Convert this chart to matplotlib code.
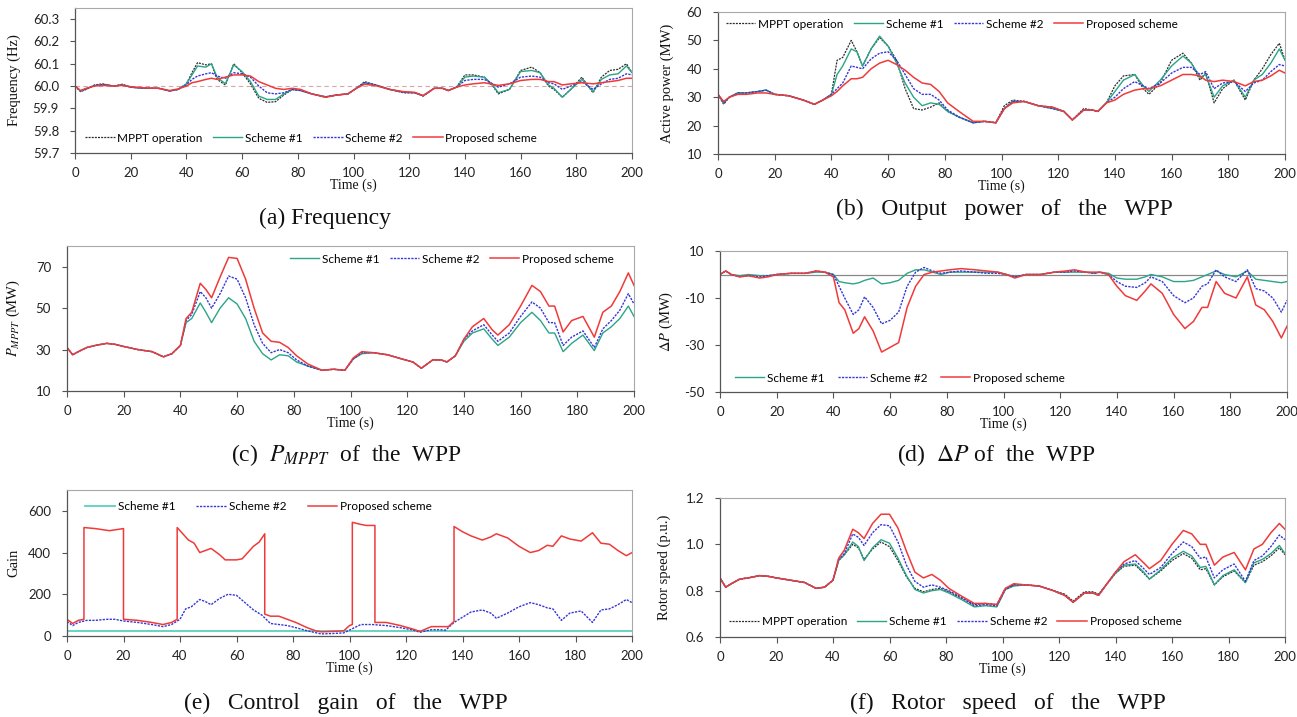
import matplotlib
matplotlib.use('Agg')
import matplotlib.pyplot as plt

plt.rcParams['mathtext.fontset'] = 'stix'

# ---------------- data ----------------
T = [0, 2, 4, 7, 10, 14, 17, 20, 25, 30, 34, 37, 40,
     42, 44, 47, 49, 51, 54, 57, 60, 63, 66, 69, 72, 75, 78, 81,
     85, 90, 94, 98, 101, 104, 108, 113, 118, 122, 125, 129, 132, 134, 137,
     140, 143, 147, 150, 152, 156, 160, 164, 167, 170, 172, 175, 178, 182, 186, 189, 192, 195, 198, 200]

xticks = list(range(0, 201, 20))
series_names = ['MPPT operation', 'Scheme #1', 'Scheme #2', 'Proposed scheme']

# (a) Frequency (Hz)
freq_mppt = [60.0, 59.975, 59.985, 60.005, 60.01, 60.0, 60.008, 59.995, 59.99, 59.99, 59.978, 59.985, 60.01,
             60.06, 60.105, 60.095, 60.10, 60.03, 60.005, 60.10, 60.06, 60.01, 59.945, 59.927, 59.93, 59.96, 59.985, 59.98,
             59.965, 59.95, 59.96, 59.965, 59.99, 60.02, 60.005, 59.985, 59.97, 59.97, 59.955, 59.99, 59.99, 59.98, 59.995,
             60.05, 60.05, 60.04, 60.0, 59.965, 59.985, 60.07, 60.085, 60.06, 60.0, 59.985, 59.95, 59.985, 60.04, 59.97, 60.04, 60.07, 60.075, 60.10, 60.06]
freq_s1 = [60.0, 59.978, 59.987, 60.003, 60.007, 60.0, 60.006, 59.995, 59.99, 59.99, 59.978, 59.985, 60.01,
           60.05, 60.09, 60.085, 60.10, 60.04, 60.01, 60.095, 60.065, 60.02, 59.955, 59.94, 59.94, 59.965, 59.985, 59.98,
           59.965, 59.952, 59.96, 59.965, 59.99, 60.015, 60.005, 59.985, 59.972, 59.97, 59.957, 59.99, 59.99, 59.98, 59.995,
           60.04, 60.045, 60.04, 60.005, 59.97, 59.985, 60.065, 60.07, 60.06, 60.005, 59.99, 59.95, 59.985, 60.03, 59.975, 60.03, 60.05, 60.055, 60.09, 60.06]
freq_s2 = [60.0, 59.978, 59.987, 60.003, 60.007, 60.0, 60.006, 59.995, 59.99, 59.99, 59.978, 59.985, 60.005,
           60.03, 60.045, 60.055, 60.06, 60.045, 60.035, 60.06, 60.055, 60.04, 60.0, 59.97, 59.965, 59.97, 59.985, 59.98,
           59.965, 59.952, 59.96, 59.965, 59.99, 60.015, 60.005, 59.985, 59.972, 59.97, 59.957, 59.99, 59.99, 59.98, 59.995,
           60.025, 60.03, 60.03, 60.01, 59.995, 60.01, 60.04, 60.045, 60.04, 60.015, 60.01, 59.985, 60.0, 60.02, 59.985, 60.01, 60.03, 60.035, 60.055, 60.05]
freq_prop = [60.0, 59.98, 59.99, 60.0, 60.003, 60.0, 60.003, 59.997, 59.992, 59.99, 59.98, 59.987, 60.0,
             60.015, 60.02, 60.03, 60.035, 60.03, 60.04, 60.05, 60.05, 60.045, 60.02, 60.005, 59.99, 59.985, 59.99, 59.985,
             59.965, 59.95, 59.96, 59.965, 59.99, 60.008, 60.002, 59.985, 59.975, 59.972, 59.957, 59.99, 59.99, 59.98, 59.995,
             60.005, 60.01, 60.015, 60.008, 60.003, 60.01, 60.025, 60.03, 60.03, 60.02, 60.02, 60.005, 60.01, 60.015, 60.01, 60.015, 60.02, 60.025, 60.035, 60.035]
freq_nominal = 60.0

# (b) Active power (MW)
pow_mppt = [31, 27.5, 30, 31.5, 31.5, 32, 32.5, 31, 30.5, 29, 27.5, 29, 31,
            43, 44, 50, 46, 41, 47, 51, 48, 43, 33, 26, 25.5, 26.5, 28, 25,
            23, 21, 21.5, 21, 27, 29, 28.5, 27, 26.5, 25, 22, 26, 25.5, 25, 28,
            34, 37.5, 38, 33, 31, 35, 43, 45.5, 42, 36, 38.5, 28, 33, 36, 29, 36, 40, 45, 49, 43]
pow_s1 = [31, 28, 30, 31.5, 31.5, 32, 32.5, 31, 30.5, 29, 27.5, 29, 31,
          38, 41, 47, 46, 41, 47, 51.5, 48, 42, 35, 30, 27, 28, 27.5, 25,
          23, 21, 21.5, 21, 26, 28.5, 28.5, 27, 26, 25, 22, 25.5, 25.5, 25, 28,
          32, 36, 38, 34, 32, 36, 41, 44.5, 42, 37, 38, 30, 34, 36, 30, 36, 38, 42, 47, 43]
pow_s2 = [31, 28, 30, 31.5, 31.5, 32, 32.5, 31, 30.5, 29, 27.5, 29, 31,
          33, 35, 41, 40.5, 40, 43.5, 45.5, 46, 43, 38, 33, 31, 31, 29, 25.5,
          23, 21, 21.5, 21, 26, 28.5, 28.5, 27, 26, 25, 22, 25.5, 25.5, 25, 28,
          30, 33, 35.5, 34, 33, 35, 38.5, 40.5, 40.5, 38, 39, 33, 35, 35.5, 32, 35, 36, 39, 41.5, 41]
pow_prop = [31, 28.5, 30, 31, 31, 31.5, 31.5, 31, 30.5, 29, 27.5, 29, 30.5,
            32, 34, 36.5, 36.5, 37, 40, 42, 43, 41.5, 39.5, 37, 35, 34.5, 32, 28,
            25, 21.5, 21.5, 21, 26, 28, 28.5, 27, 26.5, 25, 22, 25.5, 25.5, 25, 28,
            29, 31, 32.5, 33, 33, 34, 36, 38, 38, 37.5, 36, 35.5, 36, 35.5, 34, 35.5, 36, 37.5, 39.5, 38.5]

# (c) P_MPPT (MW)
pm_s1 = [31, 27.5, 29, 31, 32, 33, 32.5, 31.5, 30, 29, 26.5, 28, 32,
         43, 45, 52.5, 48, 43, 50, 55, 52, 45, 34, 28, 25, 27.5, 27, 24,
         22, 20, 20.5, 20, 25.5, 28, 28.5, 27.5, 25.5, 24, 21, 25, 25, 24, 27,
         34, 38, 40, 35, 32, 36, 43, 48, 44, 38, 38, 29, 33, 37, 29.5, 38, 41, 45, 51, 46]
pm_s2 = [31, 27.5, 29, 31, 32, 33, 32.5, 31.5, 30, 29, 26.5, 28, 32,
         44, 47, 58, 55, 50, 57, 65.5, 64, 55, 42, 33, 28.5, 30, 28.5, 25,
         22, 20, 20.5, 20, 25.5, 28.5, 28.5, 27.5, 25.5, 24, 21, 25, 25, 24, 27,
         35, 39, 42, 37, 34, 38, 46, 53, 50, 43, 43, 32, 36, 39, 31, 40, 44, 49, 57, 52]
pm_prop = [31, 27.5, 29, 31, 32, 33, 32.5, 31.5, 30, 29, 26.5, 28, 32,
           45, 48, 62, 59, 55, 65, 74.5, 74, 64, 50, 38, 34, 33.5, 31, 27,
           23, 20, 20.5, 20, 26, 29, 28.5, 27.5, 25.5, 24, 21, 25, 25, 24, 27,
           35, 41, 45, 39.5, 37, 42, 51, 61, 58, 51, 51, 38.5, 44, 46, 36, 48, 51, 58, 67, 61]

# (d) Delta P (MW)
dp_s1 = [0, 1.5, 0, -0.5, 0, -0.5, -0.5, 0, 0.5, 0.5, 1, 1, 0,
         -3, -3.5, -4, -3.5, -2.5, -1.5, -4, -3.5, -2.5, 0.5, 2, 2, 1, 0, 1,
         1, 1, 1, 1, 0, -1, 0, 0, 1, 1, 1, 1, 0.5, 1, 0.5,
         -1.5, -2, -2, -1, 0, -1, -3, -3, -2.5, -1, 0, 1.5, 0, -1, 1.5, -2, -2.5, -3, -3.5, -3]
dp_s2 = [0, 1.5, 0, -1, -0.5, -1, -0.5, 0, 0.5, 0.5, 1.5, 1, 0,
         -5, -10, -17, -15, -9.5, -14, -21, -19.5, -16, -5, 1, 3, 1.5, 0.5, 1,
         1.5, 1, 0.5, 0.5, 0, -1, 0, 0, 1, 1, 1.5, 1, 0.5, 1, 0,
         -3, -5, -5.5, -3.5, -1, -3, -9, -12, -10, -5, -4, 2, -1, -3, 2, -6, -7, -10, -16, -11]
dp_prop = [0, 1.5, 0, -1, -0.5, -1.5, -1, 0, 0.5, 0.5, 1.5, 1, -1,
           -12, -15, -25, -23, -18, -24, -33, -31, -29, -14, -5, 0, 1, 1.5, 2,
           2.5, 2, 1.5, 1, 0, -1.5, 0, 0, 1, 1.5, 2, 1, 1, 1, 0,
           -5, -9, -11, -7, -4, -8, -17, -23, -20, -14, -14, -3, -8, -10, -1, -13, -15, -20, -27, -22]
dp_zero = 0

# (e) Control gain
gain_s1_t = [0, 200]
gain_s1 = [25, 25]
gain_s2 = [70, 50, 65, 75, 75, 80, 80, 72, 65, 55, 45, 55, 80,
           130, 140, 175, 165, 150, 180, 200, 195, 160, 125, 100, 60, 55, 50, 40,
           25, 10, 12, 15, 35, 55, 55, 50, 40, 30, 18, 30, 30, 28, 65,
           90, 115, 125, 110, 85, 110, 140, 160, 150, 135, 130, 75, 110, 120, 65, 125, 130, 150, 175, 160]
gain_prop_t = [0, 2, 4, 6, 6, 10, 15, 20, 20, 25, 30, 34, 37, 39,
               39, 41, 43, 45, 47, 49, 51, 54, 56, 60, 62, 66, 68, 70,
               70, 72, 75, 78, 81, 85, 88, 90, 94, 98, 100, 101,
               101, 104, 106, 109, 109, 113, 118, 122, 125, 129, 132, 135, 137,
               137, 140, 143, 147, 150, 152, 156, 160, 164, 167, 170, 172, 175, 178, 182, 186, 189, 192, 195, 198, 200]
gain_prop = [80, 60, 75, 80, 520, 515, 505, 515, 80, 75, 65, 55, 65, 80,
             520, 490, 460, 445, 400, 410, 420, 390, 365, 365, 370, 430, 450, 490,
             105, 95, 95, 80, 65, 40, 25, 20, 22, 25, 50, 55,
             545, 535, 530, 530, 65, 65, 50, 35, 22, 45, 45, 45, 70,
             525, 500, 480, 460, 475, 490, 470, 430, 400, 410, 435, 430, 480, 465, 455, 495, 445, 440, 410, 385, 400]

# (f) Rotor speed (p.u.)
rot_mppt = [0.855, 0.815, 0.83, 0.85, 0.855, 0.865, 0.862, 0.855, 0.845, 0.835, 0.81, 0.815, 0.845,
            0.93, 0.955, 1.0, 0.985, 0.935, 0.98, 1.01, 0.99, 0.93, 0.86, 0.81, 0.795, 0.805, 0.81, 0.795,
            0.77, 0.74, 0.745, 0.74, 0.81, 0.825, 0.825, 0.82, 0.80, 0.785, 0.755, 0.795, 0.795, 0.785, 0.83,
            0.875, 0.905, 0.91, 0.875, 0.85, 0.885, 0.93, 0.96, 0.94, 0.89, 0.895, 0.825, 0.86, 0.885, 0.835, 0.91, 0.925, 0.95, 0.985, 0.955]
rot_s1 = [0.855, 0.815, 0.83, 0.85, 0.855, 0.865, 0.862, 0.855, 0.845, 0.835, 0.81, 0.815, 0.845,
          0.93, 0.955, 1.01, 0.99, 0.93, 0.985, 1.02, 1.005, 0.94, 0.865, 0.805, 0.79, 0.8, 0.805, 0.79,
          0.765, 0.73, 0.735, 0.73, 0.805, 0.82, 0.825, 0.82, 0.80, 0.78, 0.75, 0.79, 0.79, 0.78, 0.83,
          0.875, 0.91, 0.915, 0.88, 0.85, 0.89, 0.94, 0.97, 0.95, 0.9, 0.905, 0.825, 0.865, 0.89, 0.835, 0.92, 0.935, 0.96, 0.995, 0.96]
rot_s2 = [0.855, 0.815, 0.83, 0.85, 0.855, 0.865, 0.862, 0.855, 0.845, 0.835, 0.81, 0.815, 0.845,
          0.935, 0.96, 1.045, 1.03, 0.995, 1.05, 1.085, 1.08, 1.01, 0.91, 0.84, 0.815, 0.825, 0.815, 0.8,
          0.775, 0.735, 0.74, 0.735, 0.805, 0.825, 0.825, 0.82, 0.80, 0.78, 0.75, 0.79, 0.79, 0.78, 0.83,
          0.88, 0.915, 0.93, 0.895, 0.87, 0.9, 0.96, 1.01, 0.99, 0.94, 0.945, 0.855, 0.89, 0.915, 0.84, 0.93, 0.95, 0.99, 1.04, 1.02]
rot_prop = [0.855, 0.815, 0.83, 0.85, 0.855, 0.865, 0.862, 0.855, 0.845, 0.835, 0.81, 0.815, 0.845,
            0.94, 0.975, 1.065, 1.05, 1.025, 1.09, 1.13, 1.13, 1.07, 0.97, 0.88, 0.855, 0.87, 0.845, 0.81,
            0.78, 0.745, 0.745, 0.74, 0.81, 0.83, 0.825, 0.82, 0.80, 0.78, 0.75, 0.79, 0.79, 0.78, 0.83,
            0.88, 0.925, 0.955, 0.92, 0.895, 0.93, 1.0, 1.06, 1.045, 1.0, 1.0, 0.91, 0.945, 0.965, 0.89, 0.98, 1.0, 1.05, 1.09, 1.065]

# ---------------- styling ----------------
SANS = ['Lato', 'DejaVu Sans']
SERIF = ['Liberation Serif', 'DejaVu Serif']
DOT = (0, (1.6, 0.9))
STY = {
    'MPPT operation': dict(color='#2a2a2a', ls=DOT, lw=0.9),
    'Scheme #1': dict(color='#2ba487', ls='-', lw=1.0),
    'Scheme #2': dict(color='#3535d8', ls=DOT, lw=1.0),
    'Proposed scheme': dict(color='#f03a3a', ls='-', lw=1.1),
}

W, H = 1297, 717
fig = plt.figure(figsize=(W / 100, H / 100), dpi=100)


def px_axes(left, top, right, bottom):
    return fig.add_axes([left / W, 1 - bottom / H, (right - left) / W, (bottom - top) / H])


def setup(ax, ylim, yticks, yfmt, ylabel, lab_x):
    ax.set_xlim(0, 200)
    ax.set_xticks(xticks)
    ax.set_ylim(*ylim)
    ax.set_yticks(yticks)
    ax.set_yticklabels([yfmt.format(v) for v in yticks])
    for s in ('left', 'bottom'):
        ax.spines[s].set_color('#555555')
        ax.spines[s].set_linewidth(0.9)
    for s in ('top', 'right'):
        ax.spines[s].set_color('#a8a8a8')
        ax.spines[s].set_linewidth(0.8)
    ax.tick_params(axis='x', direction='out', length=4, width=0.8, color='#555555',
                   labelsize=9.5, pad=6, labelcolor='#222222')
    ax.tick_params(axis='y', direction='out', length=3.5, width=0.8, color='#555555',
                   labelsize=9.5, pad=8, labelcolor='#222222')
    for lab in ax.get_xticklabels() + ax.get_yticklabels():
        lab.set_fontfamily(SANS)
    ax.set_xlabel('Time (s)', fontfamily=SERIF, fontsize=10, labelpad=0, color='#111111')
    ax.set_ylabel(ylabel, fontfamily=SERIF, fontsize=10.5, color='#111111')
    ax.yaxis.set_label_coords(lab_x, 0.5)


def add_legend(ax, x, y, colsp=0.85, hl=2.5):
    ax.legend(loc='center left', bbox_to_anchor=(x, y), ncol=4, frameon=False,
              prop={'family': SANS, 'size': 8.5}, handlelength=hl, handletextpad=0.25,
              columnspacing=colsp, borderaxespad=0, borderpad=0)


def draw(ax, t, data):
    for name, vals in data:
        ax.plot(t, vals, label=name, **STY[name])


# (a)
ax = px_axes(75, 8, 632, 153)
ax.axhline(freq_nominal, color='#d4a8a8', ls=(0, (4, 3)), lw=0.8)
draw(ax, T, [('MPPT operation', freq_mppt), ('Scheme #1', freq_s1),
             ('Scheme #2', freq_s2), ('Proposed scheme', freq_prop)])
setup(ax, (59.7, 60.35), [59.7, 59.8, 59.9, 60.0, 60.1, 60.2, 60.3], '{:.1f}', 'Frequency (Hz)', -0.097)
add_legend(ax, 0.018, 0.103)

# (b)
ax = px_axes(718, 12, 1285, 154)
draw(ax, T, [('MPPT operation', pow_mppt), ('Scheme #1', pow_s1),
             ('Scheme #2', pow_s2), ('Proposed scheme', pow_prop)])
setup(ax, (10, 60), [10, 20, 30, 40, 50, 60], '{:d}', 'Active power (MW)', -0.078)
add_legend(ax, 0.014, 0.915)

# (c)
ax = px_axes(67, 246, 634, 391)
draw(ax, T, [('Scheme #1', pm_s1), ('Scheme #2', pm_s2), ('Proposed scheme', pm_prop)])
setup(ax, (10, 80), [10, 30, 50, 70], '{:d}', r'$P_{MPPT}$ (MW)', -0.079)
add_legend(ax, 0.393, 0.91)

# (d)
ax = px_axes(720, 251, 1287, 392)
ax.axhline(dp_zero, color='#888888', lw=0.9)
draw(ax, T, [('Scheme #1', dp_s1), ('Scheme #2', dp_s2), ('Proposed scheme', dp_prop)])
setup(ax, (-50, 10), [-50, -30, -10, 10], '{:d}', r'$\Delta P$ (MW)', -0.079)
add_legend(ax, 0.026, 0.099, colsp=1.1)

# (e)
ax = px_axes(67, 490, 632, 636)
ax.plot(gain_s1_t, gain_s1, label='Scheme #1', color='#5cd0bd', lw=1.3)
ax.plot(T, gain_s2, label='Scheme #2', **STY['Scheme #2'])
ax.plot(gain_prop_t, gain_prop, label='Proposed scheme', **STY['Proposed scheme'])
setup(ax, (0, 700), [0, 200, 400, 600], '{:d}', 'Gain', -0.083)
add_legend(ax, 0.032, 0.886, colsp=1.8)

# (f)
ax = px_axes(720, 498, 1285, 637)
draw(ax, T, [('MPPT operation', rot_mppt), ('Scheme #1', rot_s1),
             ('Scheme #2', rot_s2), ('Proposed scheme', rot_prop)])
setup(ax, (0.6, 1.2), [0.6, 0.8, 1.0, 1.2], '{:.1f}', 'Rotor speed (p.u.)', -0.087)
add_legend(ax, 0.016, 0.11)

# captions
cap_kw = dict(fontfamily=SERIF, fontsize=17, ha='center', va='center', color='#111111')
fig.text(325 / W, 1 - 218 / H, '(a) Frequency', **cap_kw)
fig.text(1004 / W, 1 - 209 / H, '(b)   Output   power   of   the   WPP', **cap_kw)
fig.text(346 / W, 1 - 455 / H, r'(c)  $P_{MPPT}$  of  the  WPP', **cap_kw)
fig.text(996 / W, 1 - 455 / H, r'(d)  $\Delta P$ of  the  WPP', **cap_kw)
fig.text(346 / W, 1 - 703 / H, '(e)   Control   gain   of   the   WPP', **cap_kw)
fig.text(1008 / W, 1 - 703 / H, '(f)   Rotor   speed   of   the   WPP', **cap_kw)

fig.savefig('out.png', dpi=100)
